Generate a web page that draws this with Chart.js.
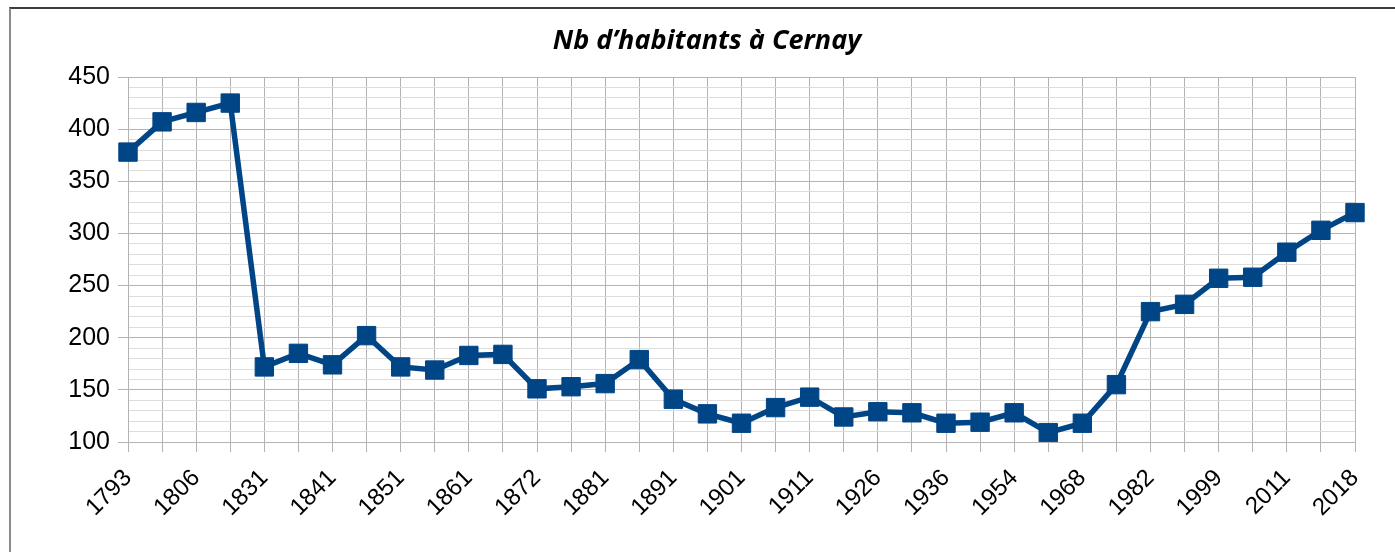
<!DOCTYPE html>
<html>
<head>
<meta charset="utf-8">
<script src="https://cdn.jsdelivr.net/npm/chart.js@4/dist/chart.umd.min.js"></script>
<style>
  html, body { margin: 0; padding: 0; background: #fff; overflow: hidden; }
  #frame { position: absolute; left: 9px; top: 7px; width: 1500px; height: 700px;
           border-left: 2px solid #8a8a8a; border-top: 2px solid #3c3c3c; }
  #wrap { position: absolute; left: 0; top: 0; width: 1395px; height: 552px; }
</style>
</head>
<body>
<div id="frame"></div>
<div id="wrap"><canvas id="c" width="1395" height="552"></canvas></div>
<script>
const titleText = "Nb d’habitants à Cernay";
const years = [1793,1800,1806,1821,1831,1836,1841,1846,1851,1856,1861,1866,1872,1876,1881,1886,1891,1896,1901,1906,1911,1921,1926,1931,1936,1946,1954,1962,1968,1975,1982,1990,1999,2006,2011,2016,2018];
const habitants = [378,407,416,425,172,185,174,202,172,169,183,184,151,153,156,179,141,127,118,133,143,124,129,128,118,119,128,109,118,155,225,232,257,258,282,303,320];
const yMin = 100, yMax = 450, yMajor = 50, yMinor = 10;

const lineColor = '#004586';

const titlePlugin = {
  id: 'centeredTitle',
  afterDraw(chart) {
    const ctx = chart.ctx;
    ctx.save();
    ctx.font = 'italic bold 27px "Open Sans"';
    ctx.fillStyle = '#000';
    ctx.textAlign = 'center';
    ctx.textBaseline = 'alphabetic';
    ctx.fillText(titleText, 707, 49);
    ctx.restore();
  }
};

new Chart(document.getElementById('c'), {
  type: 'line',
  data: {
    labels: years.map(String),
    datasets: [{
      label: 'Habitants',
      data: habitants,
      borderColor: lineColor,
      backgroundColor: lineColor,
      borderWidth: 5.5,
      pointStyle: 'rect',
      pointRadius: 13,
      pointBorderWidth: 1,
      pointBorderColor: lineColor,
      pointBackgroundColor: lineColor,
      tension: 0
    }]
  },
  plugins: [titlePlugin],
  options: {
    responsive: false,
    animation: false,
    layout: { padding: { left: 0, right: 40, top: 77, bottom: 0 } },
    plugins: {
      legend: { display: false },
      tooltip: { enabled: false },
      title: { display: false }
    },
    scales: {
      x: {
        offset: false,
        grid: { color: '#b3b3b3', lineWidth: 1, tickLength: 10, tickColor: '#b3b3b3' },
        border: { display: true, color: '#b3b3b3' },
        ticks: {
          autoSkip: false,
          maxRotation: 45, minRotation: 45,
          color: '#000',
          font: { family: 'Liberation Sans', size: 24 },
          padding: 12,
          callback: function(v, i) { return i % 2 === 0 ? this.getLabelForValue(v) : ''; }
        },
        afterFit: (s) => { s.height = 110; }
      },
      y: {
        min: yMin, max: yMax,
        grid: {
          color: (ctx) => (ctx.tick && ctx.tick.value % yMajor === 0) ? '#b3b3b3' : '#dddddd',
          tickColor: (ctx) => (ctx.tick && ctx.tick.value % yMajor === 0) ? '#b3b3b3' : 'rgba(0,0,0,0)',
          tickLength: 10,
          lineWidth: 1
        },
        border: { display: true, color: '#b3b3b3' },
        ticks: {
          stepSize: yMinor,
          autoSkip: false,
          color: '#000',
          font: { family: 'Liberation Sans', size: 25 },
          padding: 8,
          callback: (v) => (v % yMajor === 0 ? String(v) : '')
        },
        afterFit: (s) => { s.width = 128; }
      }
    }
  }
});
</script>
</body>
</html>
